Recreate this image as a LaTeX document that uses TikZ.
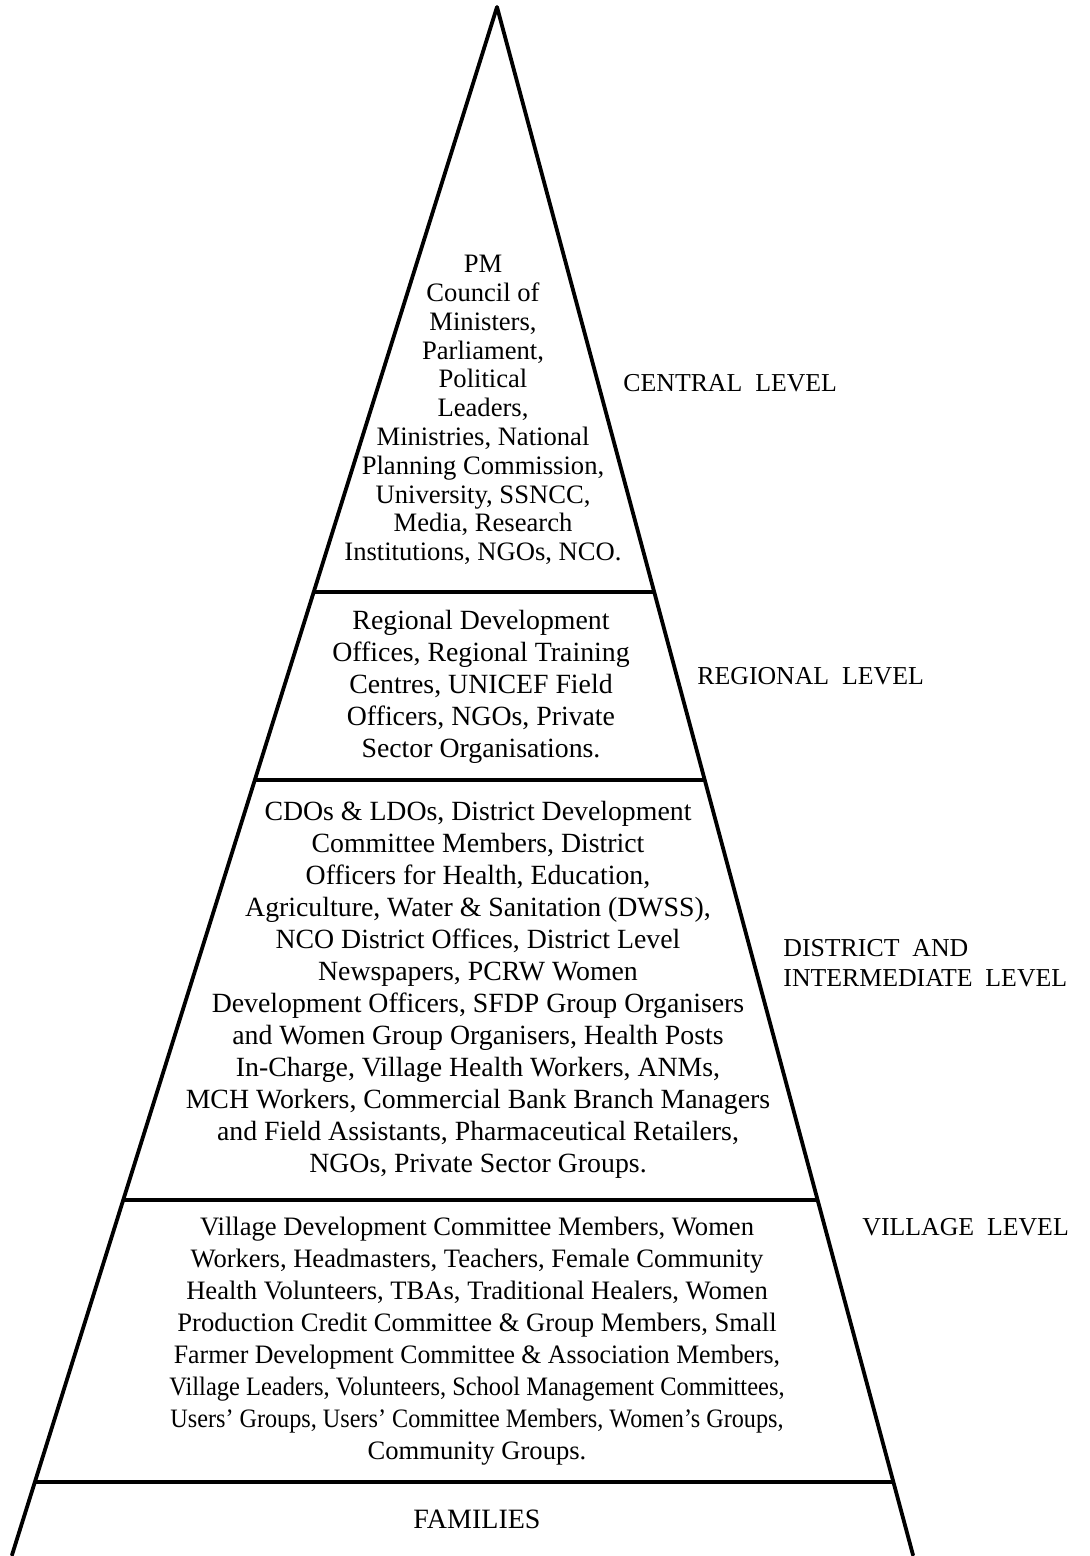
\documentclass[tikz,border=0pt]{standalone}
\usepackage{fontspec}
\setmainfont{Liberation Serif}
\usetikzlibrary{calc}
\tikzset{
  edge/.style={line width=1.9pt, line cap=round, line join=round},
  divider/.style={line width=1.6pt},
  block/.style={align=center, inner sep=0pt, font=\fontsize{13.9}{16}\selectfont},
  cblock/.style={align=center, inner sep=0pt, font=\fontsize{13.3}{14.4}\selectfont},
  vblock/.style={align=center, inner sep=0pt, font=\fontsize{13.3}{16}\selectfont},
  lvl/.style={align=left, anchor=west, inner sep=0pt, font=\fontsize{12.9}{15}\selectfont},
}
\begin{document}
\begin{tikzpicture}[x=0.5pt,y=-0.5pt]
\useasboundingbox (0,0) rectangle (1090,1556);
\coordinate (apex) at (497,7);
\coordinate (bl) at (12,1555);
\coordinate (br) at (913,1555);
\draw[edge] (bl) -- (apex) -- (br);
% dividers
\foreach \y/\n in {592/a,780/b,1200/c,1482/d}{
  \coordinate (L\n) at ($(apex)!{(\y-7)/1548}!(bl)$);
  \coordinate (R\n) at ($(apex)!{(\y-7)/1548}!(br)$);
  \draw[divider] (L\n) -- (R\n);
}
% texts
\node[cblock] (central) at (483,410) {PM\\Council of\\Ministers,\\Parliament,\\Political\\Leaders,\\Ministries, National\\Planning Commission,\\University, SSNCC,\\Media, Research\\Institutions, NGOs, NCO.};
\node[block] (regional) at (481,687) {Regional Development\\Offices, Regional Training\\Centres, UNICEF Field\\Officers, NGOs, Private\\Sector Organisations.};
\node[block] (district) at (478,990) {CDOs \& LDOs, District Development\\Committee Members, District\\Officers for Health, Education,\\Agriculture, Water \& Sanitation (DWSS),\\NCO District Offices, District Level\\Newspapers, PCRW Women\\Development Officers, SFDP Group Organisers\\and Women Group Organisers, Health Posts\\In-Charge, Village Health Workers, ANMs,\\MCH Workers, Commercial Bank Branch Managers\\and Field Assistants, Pharmaceutical Retailers,\\NGOs, Private Sector Groups.};
\node[vblock] (village) at (477,1341) {Village Development Committee Members, Women\\Workers, Headmasters, Teachers, Female Community\\Health Volunteers, TBAs, Traditional Healers, Women\\Production Credit Committee \& Group Members, Small\\\scalebox{0.97}[1]{Farmer Development Committee \& Association Members,}\\\scalebox{0.92}[1]{Village Leaders, Volunteers, School Management Committees,}\\\scalebox{0.91}[1]{Users' Groups, Users' Committee Members, Women's Groups,}\\Community Groups.};
\node[block, font=\fontsize{14}{16}\selectfont] (families) at (477,1519) {FAMILIES};
% level labels
\node[lvl] (lcentral) at (623,383) {CENTRAL\ \ LEVEL};
\node[lvl] (lregional) at (697,676) {REGIONAL\ \ LEVEL};
\node[lvl] (ldistrict) at (783,963) {DISTRICT\ \ AND\\INTERMEDIATE\ \ LEVEL};
\node[lvl] (lvillage) at (862,1227) {VILLAGE\ \ LEVEL};
\end{tikzpicture}
\end{document}
